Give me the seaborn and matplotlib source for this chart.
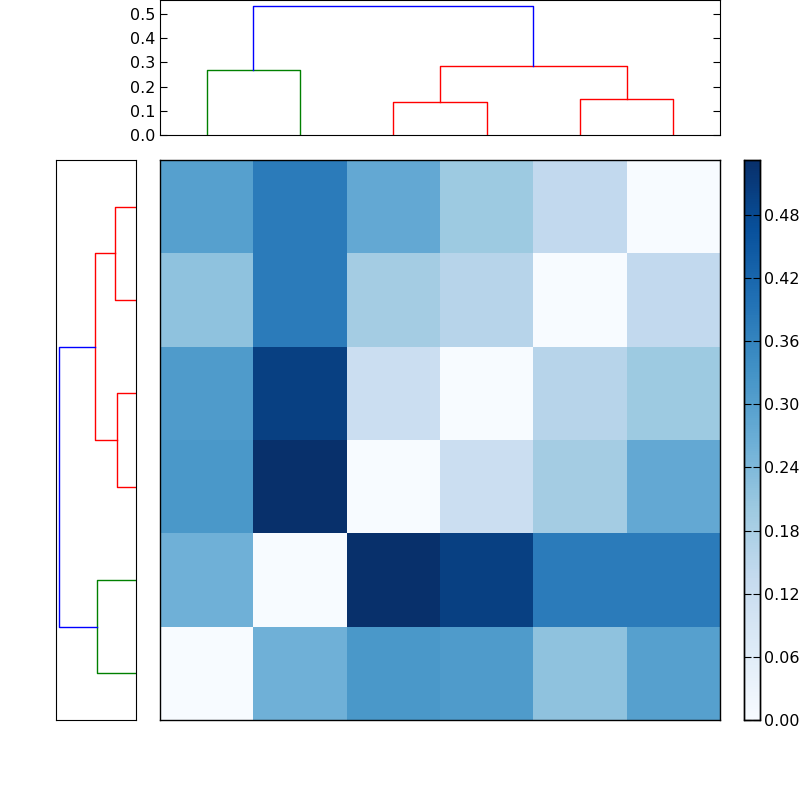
import numpy as np
import matplotlib
matplotlib.use("Agg")
import matplotlib.pyplot as plt
import seaborn as sns

# heatmap values (rows top to bottom, columns left to right)
matrix = [
    [0.30, 0.38, 0.28, 0.20, 0.14, 0.00],
    [0.22, 0.38, 0.19, 0.16, 0.00, 0.14],
    [0.31, 0.50, 0.12, 0.00, 0.16, 0.20],
    [0.32, 0.53, 0.00, 0.12, 0.19, 0.28],
    [0.26, 0.00, 0.53, 0.50, 0.38, 0.38],
    [0.00, 0.26, 0.32, 0.31, 0.22, 0.30],
]
# merges: (a, b, height, colour); ids 0..5 leaves, 6.. new clusters
top_merges = [(0, 1, 0.27, 'g'), (2, 3, 0.135, 'r'), (4, 5, 0.15, 'r'),
              (7, 8, 0.285, 'r'), (6, 9, 0.535, 'b')]
left_merges = [(0, 1, 0.146, 'r'), (2, 3, 0.133, 'r'), (4, 5, 0.272, 'g'),
               (6, 7, 0.286, 'r'), (8, 9, 0.535, 'b')]
cbar_ticks = [0.00, 0.06, 0.12, 0.18, 0.24, 0.30, 0.36, 0.42, 0.48]
top_ticks = [0.0, 0.1, 0.2, 0.3, 0.4, 0.5]
vmax = 0.532

def draw_tree(ax, merges, vertical):
    pos = {i: i + 0.5 for i in range(6)}
    hgt = {i: 0.0 for i in range(6)}
    nid = 6
    for a, b, h, c in merges:
        xs = [pos[a], pos[a], pos[b], pos[b]]
        ys = [hgt[a], h, h, hgt[b]]
        if vertical:
            ax.plot(xs, ys, color=c, lw=1)
        else:
            ax.plot(ys, xs, color=c, lw=1)
        pos[nid] = (pos[a] + pos[b]) / 2
        hgt[nid] = h
        nid += 1

fig = plt.figure(figsize=(8, 8), dpi=100)
W = H = 800
def rect(x0, y0, x1, y1):
    return [x0 / W, 1 - y1 / H, (x1 - x0) / W, (y1 - y0) / H]

ax_top = fig.add_axes(rect(160, 0, 720, 135))
ax_left = fig.add_axes(rect(56, 160, 136, 720))
ax_hm = fig.add_axes(rect(160, 160, 720, 720))
ax_cb = fig.add_axes(rect(744, 160, 760, 720))

sns.heatmap(np.array(matrix), ax=ax_hm, cmap='Blues', vmin=0, vmax=vmax,
            cbar_ax=ax_cb, xticklabels=False, yticklabels=False,
            cbar_kws={'ticks': cbar_ticks, 'format': '%.2f'})
for s in ax_hm.spines.values():
    s.set_visible(True); s.set_linewidth(1)
ax_cb.tick_params(labelsize=11.5, direction='in', length=5, left=True, right=True, pad=3)
for s in ax_cb.spines.values():
    s.set_visible(True); s.set_linewidth(1)

draw_tree(ax_top, top_merges, True)
ax_top.set_xlim(0, 6)
ax_top.set_ylim(0, 0.558)
ax_top.set_xticks([])
ax_top.set_yticks(top_ticks)
ax_top.tick_params(labelsize=11.5, direction='in', length=5, left=True, right=True)

draw_tree(ax_left, left_merges, False)
ax_left.set_ylim(6, 0)
ax_left.set_xlim(0.558, 0)
ax_left.set_xticks([]); ax_left.set_yticks([])

fig.savefig('out.png', dpi=100)
